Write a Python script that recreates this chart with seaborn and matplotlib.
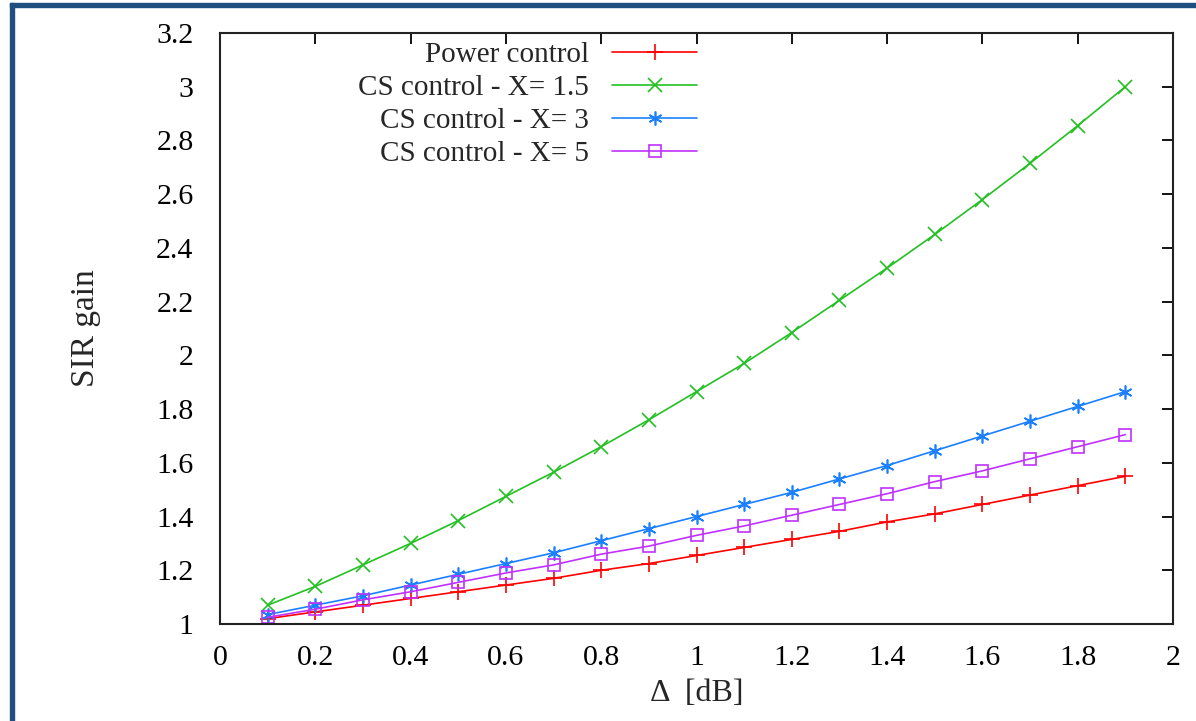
import matplotlib
matplotlib.use("Agg")
import matplotlib.pyplot as plt
import seaborn as sns
import pandas as pd
from matplotlib.patches import Rectangle

delta = [0.1, 0.2, 0.3, 0.4, 0.5, 0.6, 0.7, 0.8, 0.9, 1.0,
         1.1, 1.2, 1.3, 1.4, 1.5, 1.6, 1.7, 1.8, 1.9]
power_control = [1.02, 1.045, 1.07, 1.095, 1.12, 1.145, 1.17, 1.20, 1.225, 1.255,
                 1.285, 1.315, 1.345, 1.38, 1.41, 1.445, 1.48, 1.515, 1.55]
cs_x15 = [1.07, 1.14, 1.22, 1.30, 1.385, 1.475, 1.565, 1.66, 1.76, 1.865,
          1.97, 2.085, 2.205, 2.325, 2.45, 2.58, 2.715, 2.855, 3.0]
cs_x3 = [1.035, 1.07, 1.105, 1.145, 1.185, 1.225, 1.265, 1.31, 1.355, 1.40,
         1.445, 1.49, 1.54, 1.59, 1.645, 1.70, 1.755, 1.81, 1.865]
cs_x5 = [1.025, 1.055, 1.09, 1.12, 1.155, 1.19, 1.22, 1.26, 1.29, 1.33,
         1.365, 1.405, 1.445, 1.485, 1.53, 1.57, 1.615, 1.66, 1.705]
labels = ["Power control", "CS control - X= 1.5", "CS control - X= 3", "CS control - X= 5"]
x_ticks = [0, 0.2, 0.4, 0.6, 0.8, 1, 1.2, 1.4, 1.6, 1.8, 2]
y_ticks = [1, 1.2, 1.4, 1.6, 1.8, 2, 2.2, 2.4, 2.6, 2.8, 3, 3.2]
x_tick_labels = ["0", "0.2", "0.4", "0.6", "0.8", "1", "1.2", "1.4", "1.6", "1.8", "2"]
y_tick_labels = ["1", "1.2", "1.4", "1.6", "1.8", "2", "2.2", "2.4", "2.6", "2.8", "3", "3.2"]

sns.set_style("white")
plt.rcParams["font.family"] = ["Liberation Serif", "DejaVu Serif"]

fig = plt.figure(figsize=(11.96, 7.21), dpi=100)
ax = fig.add_axes([220 / 1196, 1 - 624 / 721, (1173 - 220) / 1196, (624 - 33) / 721])

series = [power_control, cs_x15, cs_x3, cs_x5]
colors = ["#ff0000", "#22c022", "#1a80ff", "#c030ff"]
markers = ["+", "x", (6, 2, 0), "s"]
msizes = [11, 10, 10, 8]

for vals, lab, col, mk, ms in zip(series, labels, colors, markers, msizes):
    df = pd.DataFrame({"delta": delta, "gain": vals})
    kw = dict(marker=mk, markersize=ms, markeredgecolor=col, markeredgewidth=1.2)
    if mk == "s":
        kw["markerfacecolor"] = "none"
    sns.lineplot(data=df, x="delta", y="gain", ax=ax, color=col, linewidth=1.2,
                 label=lab, **kw)

ax.set_xlim(0, 2)
ax.set_ylim(1, 3.2)
ax.set_xticks(x_ticks)
ax.set_xticklabels(x_tick_labels)
ax.set_yticks(y_ticks)
ax.set_yticklabels(y_tick_labels)
ax.tick_params(direction="in", length=8, width=1.3, labelsize=21.5, top=True, right=True,
               colors="black")
ax.tick_params(axis="y", pad=19)
ax.tick_params(axis="x", pad=15)
for sp in ax.spines.values():
    sp.set_visible(True)
    sp.set_color("#222222")
    sp.set_linewidth(1.5)

ax.set_xlabel("Δ  [dB]", fontsize=23, labelpad=6)
ax.set_ylabel("SIR gain", fontsize=24, labelpad=40)

leg = ax.legend(loc="upper right", bbox_to_anchor=(0.5005, 0.985), frameon=False,
                markerfirst=False, fontsize=21, handlelength=2.9, handletextpad=0.8,
                labelspacing=0.22, borderaxespad=0.0, borderpad=0.0)

# page border (top and left)
fig.patches.append(Rectangle((10 / 1196, 0), 4 / 1196, 1 - 3 / 721, transform=fig.transFigure,
                             color="#1f4e80", zorder=10))
fig.patches.append(Rectangle((10 / 1196, 1 - 7 / 721), 1 - 10 / 1196, 4 / 721,
                             transform=fig.transFigure, color="#1f4e80", zorder=10))

fig.savefig("out.png", dpi=100)
